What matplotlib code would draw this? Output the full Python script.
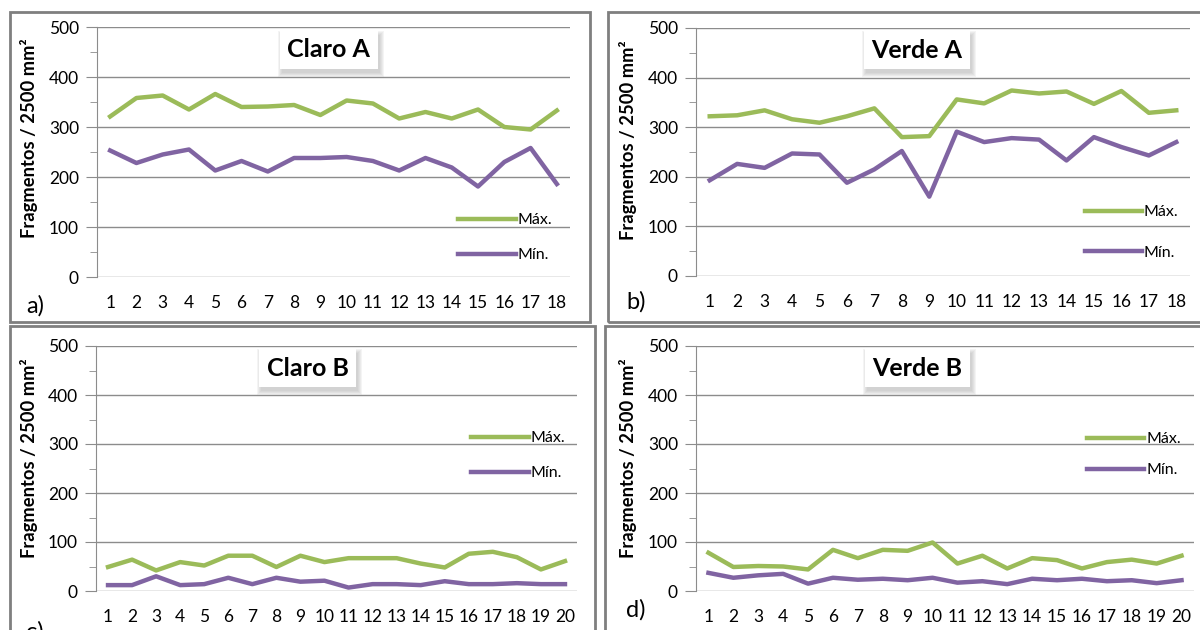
import matplotlib.pyplot as plt
from matplotlib.patches import Rectangle
from matplotlib.transforms import IdentityTransform

plt.rcParams['font.family'] = ['Lato', 'DejaVu Sans']

# --- data ---
samples_18 = list(range(1, 19))
samples_20 = list(range(1, 21))

claro_a_max = [321, 358, 363, 335, 366, 340, 341, 344, 324, 353, 347, 317, 330, 317, 335, 300, 295, 333]
claro_a_min = [253, 228, 245, 255, 213, 232, 211, 238, 238, 240, 232, 213, 238, 219, 181, 230, 258, 186]

verde_a_max = [322, 324, 334, 316, 309, 322, 338, 280, 282, 356, 348, 374, 368, 372, 347, 373, 329, 334]
verde_a_min = [193, 226, 218, 247, 245, 188, 215, 252, 160, 291, 270, 278, 275, 233, 280, 260, 243, 270]

claro_b_max = [49, 64, 42, 59, 52, 72, 72, 49, 72, 59, 67, 67, 67, 56, 48, 76, 80, 69, 44, 61]
claro_b_min = [12, 12, 30, 12, 14, 27, 14, 27, 19, 21, 7, 14, 14, 12, 20, 14, 14, 16, 14, 14]

verde_b_max = [78, 49, 51, 50, 44, 84, 67, 84, 82, 99, 56, 72, 46, 67, 63, 46, 59, 64, 56, 72]
verde_b_min = [37, 27, 32, 35, 15, 27, 23, 25, 22, 27, 17, 20, 14, 25, 22, 25, 20, 22, 16, 22]

W, H = 1200, 630
GREEN = '#9BBB59'
PURPLE = '#8064A2'
GRID = '#8c8c8c'
BORDER = '#7f7f7f'

fig = plt.figure(figsize=(W / 100, H / 100), dpi=100)


def px_rect(left, top, right, bottom):
    return [left / W, 1 - bottom / H, (right - left) / W, (bottom - top) / H]


# panel frames (left, top, right, bottom in pixels)
for l, t, r, b in [(10, 12, 590, 322), (608, 12, 1205, 322),
                   (10, 326, 595, 640), (605, 326, 1205, 640)]:
    fig.patches.append(Rectangle((l / W, 1 - b / H), (r - l) / W, (b - t) / H,
                                 transform=fig.transFigure, fill=False,
                                 edgecolor=BORDER, linewidth=2, clip_on=False))

panels = [
    # title, x, max, min, axes px rect, title x frac, legend anchor, label spacing, letter pos, ylabel pos
    ('Claro A', samples_18, claro_a_max, claro_a_min, (97, 27, 570, 277), 0.49,
     (0.764, 0.256), 1.3, 'a)', (26, 306), (29, 138)),
    ('Verde A', samples_18, verde_a_max, verde_a_min, (696, 28, 1190, 276), 0.447,
     (0.787, 0.286), 1.65, 'b)', (626, 302), (628, 140)),
    ('Claro B', samples_20, claro_b_max, claro_b_min, (96, 346, 577, 591), 0.44,
     (0.78, 0.653), 1.3, 'c)', (26, 632), (29, 458)),
    ('Verde B', samples_20, verde_b_max, verde_b_min, (696, 346, 1194, 591), 0.444,
     (0.785, 0.649), 1.05, 'd)', (626, 610), (628, 458)),
]

titles = []
for title, xs, ymax, ymin, rect, tx, leg_anchor, lspace, letter, letter_pos, ylab_pos in panels:
    ax = fig.add_axes(px_rect(*rect))
    ax.plot(xs, ymax, color=GREEN, linewidth=3.2, label='Máx.', zorder=3, solid_joinstyle='round')
    ax.plot(xs, ymin, color=PURPLE, linewidth=3.2, label='Mín.', zorder=3, solid_joinstyle='round')

    ax.set_xlim(0.5, len(xs) + 0.5)
    ax.set_ylim(0, 500)
    ax.set_xticks(xs)
    ax.set_xticklabels([str(x) for x in xs])
    ax.set_yticks(range(0, 501, 100))
    ax.set_yticks(range(50, 500, 100), minor=True)
    ax.grid(axis='y', which='major', color=GRID, linewidth=1)
    ax.set_axisbelow(True)

    for side in ['top', 'right', 'bottom']:
        ax.spines[side].set_visible(False)
    ax.spines['left'].set_color(GRID)

    ax.tick_params(axis='y', which='major', length=8, color=GRID, labelsize=12.5, pad=5)
    ax.tick_params(axis='y', which='minor', length=5, color=GRID)
    ax.tick_params(axis='x', length=0, labelsize=12.5, pad=13)

    t = ax.text(tx, 0.91, title, transform=ax.transAxes, ha='center', va='center',
                fontsize=18, fontweight='bold', color='black', zorder=6,
                bbox=dict(boxstyle='square,pad=0.3', facecolor='white', edgecolor='none'))
    titles.append((ax, t))

    ax.legend(loc='upper left', bbox_to_anchor=leg_anchor, frameon=False,
              borderpad=0, borderaxespad=0, handlelength=3.6, handletextpad=0.1,
              labelspacing=lspace, fontsize=11.5)

    fig.text(letter_pos[0] / W, 1 - letter_pos[1] / H, letter, fontsize=17,
             ha='left', va='center')
    fig.text(ylab_pos[0] / W, 1 - ylab_pos[1] / H, 'Fragmentos / 2500 mm²',
             rotation=90, fontsize=13.2, fontweight='bold', ha='center', va='center')

# soft drop shadow under the title boxes
fig.canvas.draw()
renderer = fig.canvas.get_renderer()
for ax, t in titles:
    bb = t.get_bbox_patch().get_window_extent(renderer)
    for k in range(5):
        ax.add_patch(Rectangle((bb.x0 + 2 - k, bb.y0 - 4 - k), bb.width + 2 * k, bb.height + 2 * k,
                               transform=IdentityTransform(), facecolor='#909090',
                               edgecolor='none', alpha=0.09, zorder=5, clip_on=False))

fig.savefig('out.png', dpi=100)
